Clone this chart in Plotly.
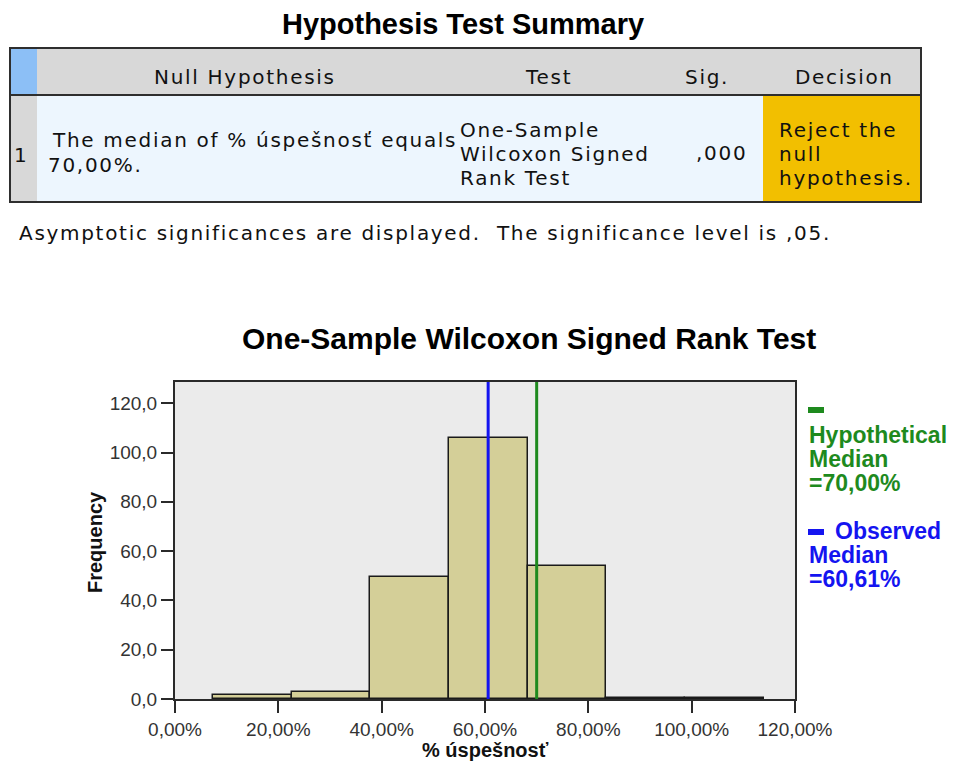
import plotly.graph_objects as go

# histogram of % úspešnosť
bin_edges = [7.3, 22.55, 37.8, 53.0, 68.25, 83.5, 98.75, 114.0]
frequencies = [1.5, 3.0, 49.5, 106.0, 54.0, 0.5, 0.5]
hypothetical_median = 70.00
observed_median = 60.61

x_ticks = [0, 20, 40, 60, 80, 100, 120]
x_tick_text = ["0,00%", "20,00%", "40,00%", "60,00%", "80,00%", "100,00%", "120,00%"]
y_ticks = [0, 20, 40, 60, 80, 100, 120]
y_tick_text = ["0,0", "20,0", "40,0", "60,0", "80,0", "100,0", "120,0"]

# hypothesis test summary table
table_header = ["Null Hypothesis", "Test", "Sig.", "Decision"]
row_number = "1"
null_hypothesis = ["The median of % úspešnosť equals", "70,00%."]
test_name = ["One-Sample", "Wilcoxon Signed", "Rank Test"]
sig_value = ",000"
decision = ["Reject the", "null", "hypothesis."]
footnote = "Asymptotic significances are displayed.  The significance level is ,05."

W, H = 956, 763
L, R, T, B = 175, 795, 382, 699

TABLE_FONT = "DejaVu Sans"
CHART_FONT = "Liberation Sans, Arial, sans-serif"
GREEN = "#1E8A1E"
BLUE = "#1414F0"


def xp(px):
    return (px - L) / (R - L)


def yp(py):
    return (B - py) / (B - T)


def rect(x0, y0, x1, y1, fill, line_color=None, line_width=0):
    return dict(type="rect", xref="paper", yref="paper",
                x0=xp(x0), x1=xp(x1), y0=yp(y1), y1=yp(y0),
                fillcolor=fill, line=dict(color=line_color or fill, width=line_width))


def label(text, x, y, size=20, anchor="left", color="#111", bold=False, font=TABLE_FONT,
          angle=0, spacing=None):
    if spacing:
        text = '<span style="letter-spacing:%spx">%s</span>' % (spacing, text)
    return dict(text=text, xref="paper", yref="paper", x=xp(x), y=yp(y),
                xanchor=anchor, yanchor="middle", showarrow=False, textangle=angle,
                font=dict(family=font, size=size, color=color,
                          weight="bold" if bold else "normal"))


def cell(text, x, y, anchor="left"):
    return label(text, x, y, anchor=anchor, spacing=1.7)


centers = [(a + b) / 2 for a, b in zip(bin_edges[:-1], bin_edges[1:])]
widths = [b - a for a, b in zip(bin_edges[:-1], bin_edges[1:])]

fig = go.Figure()
fig.add_trace(go.Bar(
    x=centers, y=frequencies, width=widths,
    marker=dict(color="#D4CF98", line=dict(color="#1A1A1A", width=1.5)),
    showlegend=False, hoverinfo="skip"))

shapes = [
    rect(10, 48, 921, 95, "#D8D8D8"),
    rect(10, 48, 37, 95, "#8CBFF6"),
    rect(10, 95, 921, 202, "#EDF6FE"),
    rect(10, 95, 37, 202, "#D8D8D8"),
    rect(763, 95, 921, 202, "#F2BF00"),
    rect(10, 48, 921, 202, "rgba(0,0,0,0)", "#2E2E2E", 2),
    dict(type="line", xref="paper", yref="paper", x0=xp(10), x1=xp(921),
         y0=yp(95), y1=yp(95), line=dict(color="#2E2E2E", width=2)),
    rect(808, 407, 824, 413, GREEN),
    rect(808, 529, 824, 535, BLUE),
]
for value, color in [(observed_median, BLUE), (hypothetical_median, GREEN)]:
    shapes.append(dict(type="line", xref="x", yref="paper", x0=value, x1=value,
                       y0=0, y1=1, line=dict(color=color, width=3)))

annotations = [
    label("Hypothesis Test Summary", 463, 24, size=29, anchor="center",
          color="#000", bold=True, font=CHART_FONT),
    cell(table_header[0], 245, 77, anchor="center"),
    cell(table_header[1], 548, 77, anchor="center"),
    cell(table_header[2], 707, 77, anchor="center"),
    cell(table_header[3], 844, 77, anchor="center"),
    cell(row_number, 21, 155, anchor="center"),
    cell(null_hypothesis[0], 50, 140),
    cell(null_hypothesis[1], 46, 165),
    cell(sig_value, 749, 153, anchor="right"),
    cell(footnote, 17, 233),
    label("One-Sample Wilcoxon Signed Rank Test", 529, 338, size=30, anchor="center",
          color="#000", bold=True, font=CHART_FONT),
    label("Frequency", 95, 542, size=20, anchor="center", color="#111",
          bold=True, font=CHART_FONT, angle=-90),
    label("% úspešnosť", 485, 750, size=20, anchor="center", color="#111",
          bold=True, font=CHART_FONT),
]
for i, line in enumerate(test_name):
    annotations.append(cell(line, 458, 130 + 24 * i))
for i, line in enumerate(decision):
    annotations.append(cell(line, 777, 130 + 24 * i))

legend_lines = [
    ("Hypothetical", 807, 435, GREEN),
    ("Median", 807, 459, GREEN),
    ("=70,00%", 807, 483, GREEN),
    ("Observed", 833, 531, BLUE),
    ("Median", 807, 555, BLUE),
    ("=60,61%", 807, 579, BLUE),
]
for text, x, y, color in legend_lines:
    annotations.append(label(text, x, y, size=23, color=color, bold=True, font=CHART_FONT))

axis_style = dict(showline=True, linecolor="#2A2A2A", linewidth=2, mirror=True,
                  ticks="outside", tickcolor="#2A2A2A", tickwidth=2, ticklen=12,
                  showgrid=False, zeroline=False, fixedrange=True,
                  tickfont=dict(family=CHART_FONT, size=19, color="#333"))

fig.update_xaxes(range=[0, 120], tickvals=x_ticks, ticktext=x_tick_text, **axis_style)
fig.update_yaxes(range=[0, 128.6], tickvals=y_ticks, ticktext=y_tick_text, **axis_style)

fig.update_layout(
    width=W, height=H,
    margin=dict(l=L, r=W - R, t=T, b=H - B, pad=0),
    paper_bgcolor="white", plot_bgcolor="#EBEBEB",
    bargap=0, shapes=shapes, annotations=annotations,
    showlegend=False)

# the page's default 8px body margin would push the figure off its place
fig.write_html("out.html", config={"displayModeBar": False},
               post_script="document.body.style.margin = '0';")
